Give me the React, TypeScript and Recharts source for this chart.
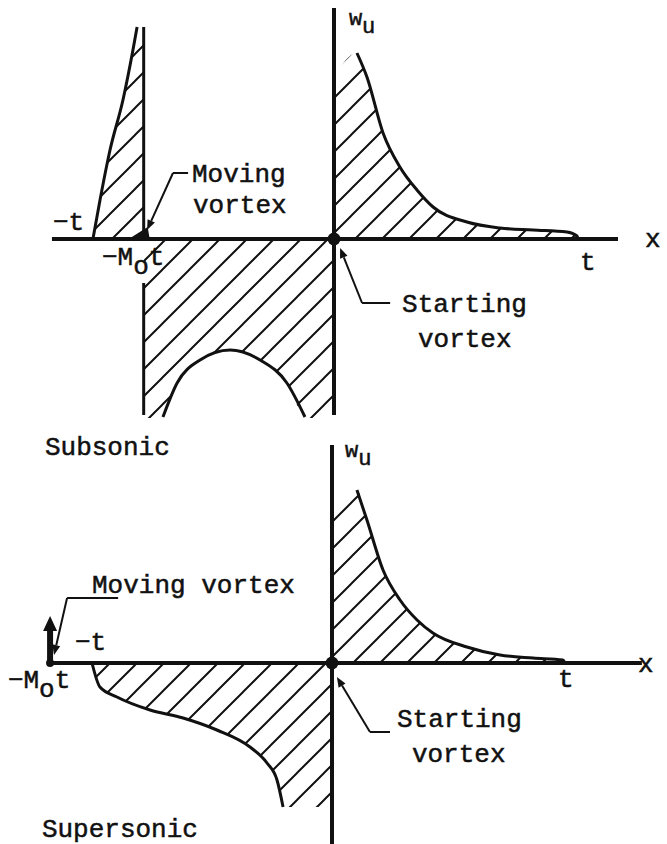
import React from "react";
import {
  ComposedChart,
  Area,
  Line,
  XAxis,
  YAxis,
  ReferenceLine,
  ReferenceDot,
} from "recharts";

// x in units of t, w in arbitrary plot units
const subMach = 0.78;
const superMach = 1.21;

// subsonic: wake ahead of the moving vortex (-t .. -M0 t)
const subFrontX = [-0.988, -0.959, -0.918, -0.865, -0.824, -0.807];
const subFrontW = [0, 0.39, 0.89, 1.39, 1.89, 2.12];

// subsonic: negative lobe between -M0 t and 0 (only the arch is visible)
const subArchX = [-0.701, -0.643, -0.549, -0.426, -0.303, -0.193, -0.119];
const subArchW = [-1.78, -1.44, -1.21, -1.11, -1.21, -1.44, -1.78];

// subsonic: decay behind the starting vortex (0 .. t)
const subTailX = [0.094, 0.135, 0.201, 0.27, 0.34, 0.406, 0.545, 0.68, 0.816, 0.955, 0.996, 1.0];
const subTailW = [1.86, 1.62, 1.06, 0.72, 0.49, 0.32, 0.17, 0.11, 0.09, 0.07, 0.03, 0];

// supersonic: negative lobe (-t .. 0)
const supNegX = [-1.03, -0.996, -0.923, -0.781, -0.639, -0.494, -0.352, -0.279, -0.236, -0.21];
const supNegW = [0, -0.24, -0.34, -0.47, -0.55, -0.67, -0.84, -1.0, -1.17, -1.44];

// supersonic: decay behind the starting vortex (0 .. t)
const supTailX = [0.107, 0.15, 0.219, 0.292, 0.365, 0.433, 0.579, 0.721, 0.863, 0.991, 1.0];
const supTailW = [1.73, 1.43, 0.93, 0.63, 0.43, 0.3, 0.16, 0.08, 0.05, 0.03, 0];

const zip = (xs: number[], ws: number[]) => xs.map((x, i) => ({ x, w: ws[i] }));

const FONT = "'Liberation Mono', 'DejaVu Sans Mono', monospace";
const INK = "#111";

type Pt = { x: number; w: number };

function arrowShape(head: number, half: number) {
  return (p: any) => {
    const { x1, y1, x2, y2 } = p;
    const a = Math.atan2(y2 - y1, x2 - x1);
    const bx = x2 - head * Math.cos(a);
    const by = y2 - head * Math.sin(a);
    const nx = -Math.sin(a) * half;
    const ny = Math.cos(a) * half;
    return (
      <g>
        <line x1={x1} y1={y1} x2={bx} y2={by} stroke={INK} strokeWidth={p.strokeWidth} />
        <polygon
          points={`${x2},${y2} ${bx + nx},${by + ny} ${bx - nx},${by - ny}`}
          fill={INK}
        />
      </g>
    );
  };
}

// small wedge marking the moving vortex on the axis
const wedge = (p: any) => (
  <polygon
    points={`${p.cx - 15},${p.cy} ${p.cx + 6},${p.cy} ${p.cx + 4},${p.cy - 12}`}
    fill={INK}
  />
);

function textAt(
  key: string,
  x: number,
  y: number,
  main: string,
  sub?: string,
  tail?: string,
  size = 26
) {
  return (
    <ReferenceDot
      key={key}
      x={x}
      y={y}
      r={1}
      ifOverflow="visible"
      shape={(p: any) => (
        <text
          x={p.cx}
          y={p.cy}
          fontFamily={FONT}
          fontSize={size}
          fill={INK}
          stroke={INK}
          strokeWidth={0.5}
        >
          {main}
          {sub && <tspan dy={size * 0.35}>{sub}</tspan>}
          {tail && <tspan dy={-size * 0.35}>{tail}</tspan>}
        </text>
      )}
    />
  );
}

function seg(key: string, a: [number, number], b: [number, number], width: number, shape?: any) {
  return (
    <ReferenceLine
      key={key}
      segment={[
        { x: a[0], y: a[1] },
        { x: b[0], y: b[1] },
      ]}
      stroke={INK}
      strokeWidth={width}
      ifOverflow="visible"
      shape={shape}
    />
  );
}

function hatch(key: string, data: Pt[]) {
  return (
    <Area
      key={key}
      data={data}
      dataKey="w"
      type="monotone"
      baseValue={0}
      stroke="none"
      fill="url(#hatch)"
      fillOpacity={1}
      dot={false}
      activeDot={false}
      isAnimationActive={false}
    />
  );
}

function curve(key: string, data: Pt[]) {
  return (
    <Line
      key={key}
      data={data}
      dataKey="w"
      type="monotone"
      stroke={INK}
      strokeWidth={3}
      dot={false}
      activeDot={false}
      isAnimationActive={false}
    />
  );
}

function Subsonic() {
  const front = zip(subFrontX, subFrontW);
  const arch = zip(subArchX, subArchW);
  const tail = zip(subTailX, subTailW);
  const bottom = -1.79;
  return (
    <ComposedChart width={667} height={422} margin={{ top: 0, right: 0, bottom: 0, left: 0 }}>
      <XAxis type="number" dataKey="x" domain={[-1.3689, 1.3648]} allowDataOverflow hide />
      <YAxis type="number" dataKey="w" domain={[-1.83, 2.39]} allowDataOverflow hide />
      {hatch("hf", [...front, { x: -subMach, w: 2.12 }])}
      {hatch("hn", [
        { x: -subMach, w: bottom },
        { x: -0.72, w: bottom },
        ...arch,
        { x: -0.1, w: bottom },
        { x: 0, w: bottom },
      ])}
      {hatch("ht", [{ x: 0, w: 1.62 }, ...tail])}
      {curve("cf", front)}
      {curve("ca", arch)}
      {curve("ct", tail)}
      {seg("ax", [-1.156, 0], [1.164, 0], 4)}
      {seg("ay", [0, -1.76], [0, 2.31], 4)}
      {seg("mu", [-subMach, 0], [-subMach, 2.12], 3)}
      {seg("md", [-subMach, -0.44], [-subMach, -1.76], 3)}
      {seg("lm1", [-0.598, 0.66], [-0.66, 0.66], 2)}
      {seg("lm2", [-0.66, 0.66], [-0.766, 0.09], 2, arrowShape(10, 4))}
      {seg("ls1", [0.23, -0.64], [0.115, -0.64], 2)}
      {seg("ls2", [0.115, -0.64], [0.025, -0.09], 2, arrowShape(10, 4))}
      <ReferenceDot x={-subMach} y={0} r={4} shape={wedge} />
      <ReferenceDot x={0} y={0} r={6.5} fill={INK} stroke="none" />
      {textAt("wu", 0.061, 2.14, "w", "u", undefined, 22)}
      {textAt("xl", 1.275, -0.08, "x")}
      {textAt("tl", 1.008, -0.31, "t")}
      {textAt("mt", -1.152, 0.09, "\u2212t")}
      {textAt("mm", -0.951, -0.26, "\u2212M", "o", "t")}
      {textAt("mv1", -0.582, 0.57, "Moving")}
      {textAt("mv2", -0.578, 0.26, "vortex")}
      {textAt("sv1", 0.279, -0.73, "Starting")}
      {textAt("sv2", 0.344, -1.08, "vortex")}
    </ComposedChart>
  );
}

function Supersonic() {
  const neg = zip(supNegX, supNegW);
  const tail = zip(supTailX, supTailW);
  return (
    <ComposedChart width={667} height={422} margin={{ top: 0, right: 0, bottom: 0, left: 0 }}>
      <XAxis type="number" dataKey="x" domain={[-1.4249, 1.4378]} allowDataOverflow hide />
      <YAxis type="number" dataKey="w" domain={[-1.81, 2.41]} allowDataOverflow hide />
      {hatch("hn", [...neg, { x: 0, w: -1.44 }])}
      {hatch("ht", [{ x: 0, w: 1.55 }, ...tail])}
      {curve("cn", neg)}
      {curve("ct", tail)}
      {seg("ax", [-superMach, 0], [1.33, 0], 4)}
      {seg("ay", [0, -1.81], [0, 2.18], 4)}
      {seg("va", [-superMach, 0], [-superMach, 0.47], 6, arrowShape(15, 7))}
      {seg("lm1", [-0.918, 0.65], [-1.137, 0.65], 2)}
      {seg("lm2", [-1.137, 0.65], [-1.193, 0.08], 2, arrowShape(10, 4))}
      {seg("ls1", [0.249, -0.69], [0.163, -0.69], 2)}
      {seg("ls2", [0.163, -0.69], [0.021, -0.14], 2, arrowShape(10, 4))}
      <ReferenceDot x={-superMach} y={0} r={4} fill={INK} stroke="none" />
      <ReferenceDot x={0} y={0} r={6.5} fill={INK} stroke="none" />
      {textAt("sub", -1.232, 2.08, "Subsonic")}
      {textAt("wu", 0.056, 2.06, "w", "u", undefined, 22)}
      {textAt("xl", 1.313, -0.09, "x")}
      {textAt("tl", 0.97, -0.24, "t")}
      {textAt("mt", -1.103, 0.13, "\u2212t")}
      {textAt("mm", -1.391, -0.25, "\u2212M", "o", "t")}
      {textAt("mv", -1.03, 0.7, "Moving vortex")}
      {textAt("sv1", 0.279, -0.64, "Starting")}
      {textAt("sv2", 0.343, -0.99, "vortex")}
      {textAt("sup", -1.245, -1.74, "Supersonic")}
    </ComposedChart>
  );
}

export default function App() {
  return (
    <div style={{ position: "absolute", left: 0, top: 0, width: 667, height: 844, background: "#fff" }}>
      <svg width={0} height={0} style={{ position: "absolute" }}>
        <defs>
          <pattern id="hatch" patternUnits="userSpaceOnUse" width={27} height={27}>
            <path d="M-3,3 L3,-3 M0,27 L27,0 M24,30 L30,24" stroke={INK} strokeWidth={2} />
          </pattern>
        </defs>
      </svg>
      <div style={{ position: "absolute", left: 0, top: 0 }}>
        <Subsonic />
      </div>
      <div style={{ position: "absolute", left: 0, top: 422 }}>
        <Supersonic />
      </div>
    </div>
  );
}
